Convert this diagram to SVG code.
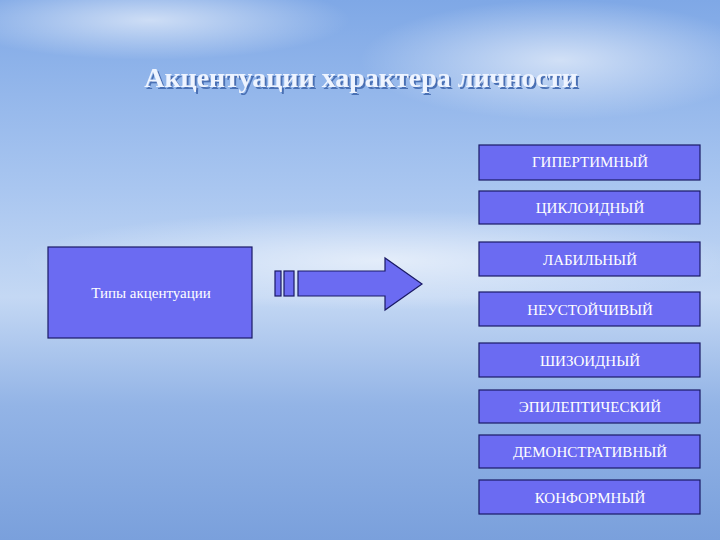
<svg xmlns="http://www.w3.org/2000/svg" width="720" height="540" viewBox="0 0 720 540">
<defs>
<linearGradient id="bg" x1="0" y1="0" x2="0" y2="1">
<stop offset="0" stop-color="#7fa8e6"/><stop offset="0.35" stop-color="#a9c6f0"/><stop offset="0.55" stop-color="#c4d8f4"/><stop offset="0.75" stop-color="#93b4e6"/><stop offset="1" stop-color="#7aa0dc"/>
</linearGradient>
<radialGradient id="cl" cx="0.5" cy="0.5" r="0.5"><stop offset="0" stop-color="#fff" stop-opacity="0.6"/><stop offset="1" stop-color="#fff" stop-opacity="0"/></radialGradient>
<filter id="sh" x="-5%" y="-30%" width="110%" height="160%"><feDropShadow dx="2" dy="2" stdDeviation="0.5" flood-color="#4a6fb4"/></filter>
<style>
.b{fill:#6b6bf2;stroke:#1a1a66;stroke-width:1.2}
.t{font-family:"Liberation Serif",serif;font-size:15px;fill:#fff;text-anchor:middle}
</style>
</defs>
<rect width="720" height="540" fill="url(#bg)"/>
<ellipse cx="560" cy="60" rx="200" ry="60" fill="url(#cl)"/>
<ellipse cx="150" cy="20" rx="200" ry="40" fill="url(#cl)"/>
<ellipse cx="380" cy="260" rx="360" ry="50" fill="url(#cl)"/>
<text x="361" y="87" font-family="Liberation Serif,serif" font-size="28" font-weight="bold" fill="#eef4ff" text-anchor="middle" filter="url(#sh)">Акцентуации характера личности</text>
<g id="source"><rect class="b" x="48" y="247" width="204" height="91"/><text class="t" x="151" y="298">Типы акцентуации</text></g>
<g id="connectors">
<rect class="b" x="275" y="271" width="6" height="25"/>
<rect class="b" x="284" y="271" width="10" height="25"/>
<polygon class="b" points="298,271 385,271 385,258 422,284 385,310 385,296 298,296"/>
</g>
<g id="n1"><rect class="b" x="479" y="145" width="221" height="35"/><text class="t" x="590" y="167">ГИПЕРТИМНЫЙ</text></g>
<g id="n2"><rect class="b" x="479" y="191" width="221" height="33"/><text class="t" x="590" y="213">ЦИКЛОИДНЫЙ</text></g>
<g id="n3"><rect class="b" x="479" y="242" width="221" height="34"/><text class="t" x="590" y="265">ЛАБИЛЬНЫЙ</text></g>
<g id="n4"><rect class="b" x="479" y="292" width="221" height="34"/><text class="t" x="590" y="315">НЕУСТОЙЧИВЫЙ</text></g>
<g id="n5"><rect class="b" x="479" y="343" width="221" height="34"/><text class="t" x="590" y="366">ШИЗОИДНЫЙ</text></g>
<g id="n6"><rect class="b" x="479" y="390" width="221" height="33"/><text class="t" x="590" y="412">ЭПИЛЕПТИЧЕСКИЙ</text></g>
<g id="n7"><rect class="b" x="479" y="435" width="221" height="33"/><text class="t" x="590" y="457">ДЕМОНСТРАТИВНЫЙ</text></g>
<g id="n8"><rect class="b" x="479" y="480" width="221" height="34"/><text class="t" x="590" y="503">КОНФОРМНЫЙ</text></g>
</svg>
